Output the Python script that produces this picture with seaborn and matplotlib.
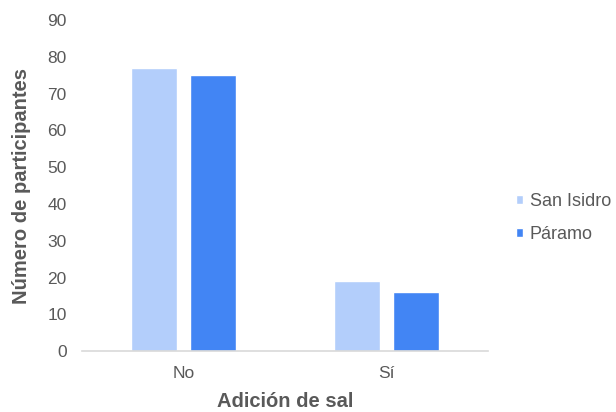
import matplotlib
matplotlib.use("Agg")
import matplotlib.pyplot as plt
import seaborn as sns
import pandas as pd

categories = ["No", "Sí"]
series_names = ["San Isidro", "Páramo"]
san_isidro = [77, 19]
paramo = [75, 16]
y_ticks = [0, 10, 20, 30, 40, 50, 60, 70, 80, 90]

df = pd.DataFrame({
    "Adición de sal": categories * 2,
    "Grupo": [series_names[0]] * len(categories) + [series_names[1]] * len(categories),
    "Número de participantes": san_isidro + paramo,
})

sns.set_style("white")
plt.rcParams["font.family"] = ["Liberation Sans", "DejaVu Sans"]

text_gray = "#595959"

fig = plt.figure(figsize=(6.16, 4.12), dpi=100)
ax = fig.add_axes([0.133, 0.148, 0.659, 0.803])

palette = {"San Isidro": "#b3cefb", "Páramo": "#4285f4"}
sns.barplot(data=df, x="Adición de sal", y="Número de participantes", hue="Grupo",
            palette=palette, width=0.58, gap=0.22, ax=ax, legend=True,
            saturation=1)

ax.set_ylim(0, 90)
ax.set_yticks(y_ticks)
ax.set_xlim(-0.5, 1.5)
for s in ["top", "right", "left"]:
    ax.spines[s].set_visible(False)
ax.spines["bottom"].set_color("#d9d9d9")
ax.spines["bottom"].set_linewidth(1.2)
ax.tick_params(axis="y", length=0, labelsize=12.5, labelcolor=text_gray, pad=11)
ax.tick_params(axis="x", length=0, labelsize=12.5, labelcolor=text_gray, pad=11)
ax.set_xlabel("Adición de sal", fontsize=14.5, fontweight="bold", color=text_gray, labelpad=8)
ax.set_ylabel("Número de participantes", fontsize=14.5, fontweight="bold", color=text_gray, labelpad=12)

handles, labels = ax.get_legend_handles_labels()
ax.get_legend().remove()
fig.legend(handles, labels, loc="center left", bbox_to_anchor=(0.838, 0.471),
           bbox_transform=fig.transFigure, frameon=False,
           fontsize=13, labelcolor=text_gray, handlelength=0.4, handleheight=0.4,
           handletextpad=0.35, labelspacing=0.85, borderpad=0, borderaxespad=0)

fig.savefig("out.png", dpi=100)
